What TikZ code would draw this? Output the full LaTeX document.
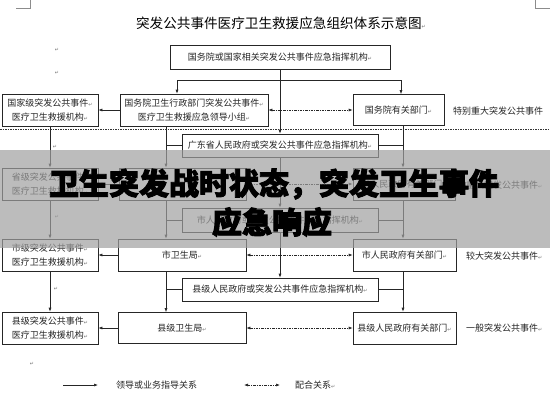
\documentclass[tikz,border=0pt]{standalone}
\usepackage{fontspec}
\newfontfamily\cjk{Noto Sans CJK SC}[BoldFeatures={FakeBold=3}]
\newfontfamily\dejavu{DejaVu Sans}
\usetikzlibrary{arrows.meta}
\newcommand\rt{{\dejavu\fontsize{5}{5}\selectfont\color{black!55}↵}}
\begin{document}
\begin{tikzpicture}[x=1pt,y=-1pt,
 box/.style={draw=black!85, line width=0.6pt, inner sep=0pt, align=center, font=\cjk\fontsize{9}{14}\selectfont, text=black!85},
 lbl/.style={inner sep=0pt, anchor=west, font=\cjk\fontsize{9}{11}\selectfont, text=black!85},
 ln/.style={draw=black!85, line width=0.6pt},
 arr/.style={ln, -{Latex[length=4pt,width=3pt]}},
 coop/.style={ln, dash pattern=on 2.5pt off 1.2pt on 0.6pt off 1.2pt, {Latex[length=4pt,width=3pt]}-{Latex[length=4pt,width=3pt]}},
 sep/.style={draw=black!80, line width=0.6pt, dash pattern=on 1.5pt off 1pt},
 ret/.style={inner sep=0pt, font=\dejavu\fontsize{5}{5}\selectfont, text=black!55},
 big/.style={inner sep=0pt, font=\cjk\bfseries\fontsize{30}{30}\selectfont, text=black},
 ]
\useasboundingbox (0,0) rectangle (550,400);
\fill[white] (0,0) rectangle (550,400);
% page corner marks
\draw[black!45, line width=0.5pt] (30,0) -- (30,8) -- (16,8);
\draw[black!45, line width=0.5pt] (535,0) -- (535,8) -- (550,8);
% title
\node[inner sep=0pt, font=\cjk\fontsize{13.6}{14}\selectfont] (title) at (281,23) {突发公共事件医疗卫生救援应急组织体系示意图\rt};
% stray paragraph marks
\node[ret] (r1) at (57,50) {↵};
\node[ret] (r2) at (57,73) {↵};
\node[ret] (r3) at (55,147) {↵};
\node[ret] (r4) at (57,217) {↵};
\node[ret] (r5) at (56,289) {↵};
\node[ret] (r6) at (32,364) {↵};
% column coordinates
\coordinate (cL) at (166,0);
\coordinate (cR) at (403,0);
% row 1 (national)
\node[box, minimum width=220pt, minimum height=24pt] (b1) at (280,57) {国务院或国家相关突发公共事件应急指挥机构\rt};
\node[box, minimum width=96pt, minimum height=32pt] (b2) at (50,110) {国家级突发公共事件\rt\\医疗卫生救援机构\rt};
\node[box, minimum width=148pt, minimum height=32pt] (b3) at (194,110) {国务院卫生行政部门突发公共事件\rt\\医疗卫生救援应急领导小组\rt};
\node[box, minimum width=91pt, minimum height=31pt] (b4) at (398.5,110) {国务院有关部门\rt};
\node[lbl] (l1) at (453,111) {特别重大突发公共事件};
\coordinate (jL) at (177,80);
\coordinate (jR) at (401,80);
\draw[ln] (jL) -- (jR);
\draw[arr] (jL) -- (jL |- b3.north);
\draw[arr] (jR) -- (jR |- b4.north);
\draw[arr] (b3.west) -- (b2.east);
\draw[coop] (b3.east) -- (b4.west);
\draw[sep] (0,129) -- (550,129);
% row 2 (province)
\node[box, minimum width=196pt, minimum height=23pt] (gd) at (280,145.5) {广东省人民政府或突发公共事件应急指挥机构\rt};
\node[box, minimum width=96pt, minimum height=32pt] (p2) at (50,184) {省级突发公共事件\rt\\医疗卫生救援机构\rt};
\node[box, minimum width=127pt, minimum height=32pt] (p3) at (182.5,184) {};
\node[box, minimum width=102pt, minimum height=32pt] (p4) at (404,184) {省人民政府有关部门\rt};
\node[lbl] (l2) at (466,185) {重大突发公共事件\rt};
\draw[arr] (b1.south) -- (gd.north);
\draw[arr] (b2.south) -- (p2.north);
\draw[arr] (b3.south -| cL) -- (p3.north -| cL);
\draw[ln] (gd.west) -- (gd.west -| cL);
\draw[arr] (b4.south -| cR) -- (p4.north -| cR);
\draw[ln] (gd.east) -- (gd.east -| cR);
\draw[arr] (p3.west) -- (p2.east);
\draw[coop] (p3.east) -- (p4.west);
% row 3 (city)
\node[box, minimum width=196pt, minimum height=24pt] (mg) at (280,220) {市人民政府或突发公共事件应急指挥机构\rt};
\node[box, minimum width=96pt, minimum height=32pt] (m2) at (50,255) {市级突发公共事件\rt\\医疗卫生救援机构\rt};
\node[box, minimum width=128pt, minimum height=32pt] (m3) at (182,255) {市卫生局\rt};
\node[box, minimum width=103pt, minimum height=32pt] (m4) at (404.5,255) {市人民政府有关部门\rt};
\node[lbl] (l3) at (466,256) {较大突发公共事件\rt};
\draw[arr] (gd.south) -- (mg.north);
\draw[arr] (p2.south) -- (m2.north);
\draw[arr] (p3.south -| cL) -- (m3.north -| cL);
\draw[ln] (mg.west) -- (mg.west -| cL);
\draw[arr] (p4.south -| cR) -- (m4.north -| cR);
\draw[ln] (mg.east) -- (mg.east -| cR);
\draw[arr] (m3.west) -- (m2.east);
\draw[coop] (m3.east) -- (m4.west);
% row 4 (county)
\node[box, minimum width=196pt, minimum height=23pt] (cg) at (280,289.5) {县级人民政府或突发公共事件应急指挥机构\rt};
\node[box, minimum width=96pt, minimum height=32pt] (c2) at (50,328) {县级突发公共事件\rt\\医疗卫生救援机构\rt};
\node[box, minimum width=128pt, minimum height=31pt] (c3) at (182,328) {县级卫生局\rt};
\node[box, minimum width=103pt, minimum height=32pt] (c4) at (404.5,328) {县级人民政府有关部门\rt};
\node[lbl] (l4) at (466,328) {一般突发公共事件\rt};
\draw[arr] (mg.south) -- (cg.north);
\draw[arr] (m2.south) -- (c2.north);
\draw[arr] (m3.south -| cL) -- (c3.north -| cL);
\draw[ln] (cg.west) -- (cg.west -| cL);
\draw[arr] (m4.south -| cR) -- (c4.north -| cR);
\draw[ln] (cg.east) -- (cg.east -| cR);
\draw[arr] (c3.west) -- (c2.east);
\draw[coop] (c3.east) -- (c4.west);
% legend
\coordinate (g1) at (63,385);
\coordinate (g2) at (98,385);
\draw[arr] (g1) -- (g2);
\node[lbl] (gt1) at (116,385) {领导或业务指导关系};
\coordinate (g3) at (244,385);
\coordinate (g4) at (280,385);
\draw[coop] (g3) -- (g4);
\node[lbl] (gt2) at (295,385) {配合关系\rt};
% overlay band with headline
\fill[fill={rgb,255:red,160;green,160;blue,160}, fill opacity=0.7] (0,150) rectangle (550,248);
\node[big] (bt1) at (274,184) {卫生突发战时状态，突发卫生事件};
\node[big] (bt2) at (272,222) {应急响应};
\end{tikzpicture}
\end{document}
